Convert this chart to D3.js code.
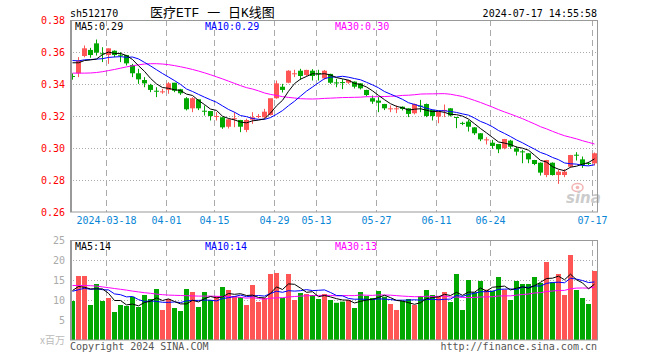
<!DOCTYPE html>
<html><head><meta charset="utf-8">
<script src="https://cdn.jsdelivr.net/npm/d3@7"></script>
<style>html,body{margin:0;padding:0;background:#fff;} svg{display:block}</style>
</head><body><svg id="c" width="660" height="360"></svg>
<script>
// ---------- data ----------
const dates = [
"2024-03-08","2024-03-11","2024-03-12","2024-03-13","2024-03-14","2024-03-15","2024-03-18","2024-03-19","2024-03-20","2024-03-21",
"2024-03-22","2024-03-25","2024-03-26","2024-03-27","2024-03-28","2024-03-29","2024-04-01","2024-04-02","2024-04-03","2024-04-08",
"2024-04-09","2024-04-10","2024-04-11","2024-04-12","2024-04-15","2024-04-16","2024-04-17","2024-04-18","2024-04-19","2024-04-22",
"2024-04-23","2024-04-24","2024-04-25","2024-04-26","2024-04-29","2024-04-30","2024-05-06","2024-05-07","2024-05-08","2024-05-09",
"2024-05-10","2024-05-13","2024-05-14","2024-05-15","2024-05-16","2024-05-17","2024-05-20","2024-05-21","2024-05-22","2024-05-23",
"2024-05-24","2024-05-27","2024-05-28","2024-05-29","2024-05-30","2024-05-31","2024-06-03","2024-06-04","2024-06-05","2024-06-06",
"2024-06-07","2024-06-11","2024-06-12","2024-06-13","2024-06-14","2024-06-17","2024-06-18","2024-06-19","2024-06-20","2024-06-21",
"2024-06-24","2024-06-25","2024-06-26","2024-06-27","2024-06-28","2024-07-01","2024-07-02","2024-07-03","2024-07-04","2024-07-05",
"2024-07-08","2024-07-09","2024-07-10","2024-07-11","2024-07-12","2024-07-15","2024-07-16","2024-07-17"];

const open = [
0.3450,0.3467,0.3575,0.3613,0.3654,0.3592,0.3581,0.3608,0.3583,0.3581,
0.3519,0.3467,0.3425,0.3394,0.3358,0.3352,0.3363,0.3408,0.3367,0.3311,
0.3248,0.3304,0.3233,0.3231,0.3198,0.3192,0.3133,0.3184,0.3175,0.3113,
0.3177,0.3198,0.3192,0.3206,0.3311,0.3383,0.3408,0.3465,0.3483,0.3456,
0.3483,0.3469,0.3435,0.3463,0.3410,0.3412,0.3408,0.3415,0.3404,0.3363,
0.3311,0.3296,0.3275,0.3246,0.3246,0.3258,0.3248,0.3217,0.3265,0.3275,
0.3238,0.3196,0.3236,0.3248,0.3194,0.3157,0.3165,0.3129,0.3092,0.3052,
0.3033,0.3025,0.2998,0.3046,0.2998,0.2979,0.2967,0.2925,0.2908,0.2831,
0.2908,0.2831,0.2831,0.2883,0.2958,0.2929,0.2906,0.2904];
const high = [
0.3470,0.3571,0.3644,0.3629,0.3681,0.3633,0.3625,0.3613,0.3602,0.3585,
0.3529,0.3498,0.3446,0.3404,0.3383,0.3373,0.3415,0.3410,0.3373,0.3321,
0.3321,0.3306,0.3269,0.3233,0.3227,0.3196,0.3186,0.3227,0.3179,0.3186,
0.3227,0.3215,0.3248,0.3311,0.3425,0.3404,0.3490,0.3492,0.3498,0.3492,
0.3496,0.3492,0.3490,0.3467,0.3435,0.3433,0.3429,0.3419,0.3408,0.3367,
0.3331,0.3321,0.3279,0.3269,0.3269,0.3263,0.3252,0.3281,0.3304,0.3281,
0.3242,0.3231,0.3275,0.3252,0.3196,0.3167,0.3179,0.3133,0.3096,0.3071,
0.3054,0.3027,0.3060,0.3054,0.3013,0.2992,0.2971,0.2929,0.2913,0.2929,
0.2913,0.2867,0.2871,0.2960,0.2977,0.2950,0.2917,0.2975];
const low = [
0.3430,0.3446,0.3570,0.3567,0.3581,0.3540,0.3529,0.3571,0.3540,0.3519,
0.3446,0.3404,0.3383,0.3352,0.3321,0.3342,0.3342,0.3352,0.3335,0.3238,
0.3227,0.3240,0.3206,0.3175,0.3175,0.3123,0.3125,0.3133,0.3102,0.3102,
0.3154,0.3190,0.3186,0.3206,0.3311,0.3350,0.3408,0.3446,0.3429,0.3450,
0.3425,0.3425,0.3431,0.3404,0.3383,0.3371,0.3404,0.3375,0.3369,0.3325,
0.3279,0.3227,0.3240,0.3227,0.3221,0.3238,0.3196,0.3213,0.3227,0.3196,
0.3175,0.3158,0.3196,0.3200,0.3127,0.3146,0.3106,0.3085,0.3046,0.3025,
0.2998,0.2971,0.2995,0.2998,0.2956,0.2908,0.2908,0.2896,0.2831,0.2821,
0.2831,0.2779,0.2821,0.2880,0.2925,0.2879,0.2896,0.2894];
const close = [
0.3449,0.3546,0.3623,0.3581,0.3596,0.3590,0.3623,0.3581,0.3581,0.3529,
0.3467,0.3429,0.3404,0.3363,0.3356,0.3354,0.3404,0.3358,0.3342,0.3242,
0.3311,0.3248,0.3231,0.3200,0.3200,0.3129,0.3179,0.3186,0.3133,0.3175,
0.3192,0.3200,0.3227,0.3311,0.3404,0.3363,0.3483,0.3467,0.3450,0.3488,
0.3450,0.3467,0.3483,0.3408,0.3408,0.3410,0.3425,0.3383,0.3373,0.3331,
0.3290,0.3283,0.3248,0.3248,0.3248,0.3244,0.3213,0.3275,0.3263,0.3200,
0.3200,0.3227,0.3238,0.3203,0.3190,0.3155,0.3133,0.3092,0.3054,0.3054,
0.3013,0.2992,0.3056,0.3008,0.2977,0.2977,0.2929,0.2900,0.2846,0.2925,
0.2831,0.2852,0.2852,0.2956,0.2956,0.2894,0.2904,0.2967];
// volume, millions
const volume = [
9.75,16,16,8.75,14,9.75,10.5,7,8.75,8.5,
10.8,8.25,11.25,10.25,12.75,7.5,10.25,8,7.25,12.75,
12,8.25,12,10,11,13.25,12.5,11,10.75,8.75,
13.75,9.5,10.5,16.5,16.75,10.5,16.5,10,11.75,11.5,
11.25,10.25,11.5,10,9.3,9.6,10,8,12,11,
10.5,12.25,10.8,9,7.5,9.75,10.25,8.75,11,12.5,
11.25,11,12,9.5,16.5,7.5,15,11.9,14.75,12.6,
12.3,15.75,12.6,10,14.75,14,14,15.75,14.25,19.5,
14.4,16.5,11.25,21.25,12.5,10.5,9,17.25];
// sessions before the first visible one (estimated from the MA lines' start)
const priorCloses = [0.3570,0.3555,0.3565,0.3570,0.3560,0.3546,0.3553,0.3561,0.3570];
const priorVolumes = [12,12.5,11.5,12,12.5,11,17,10.75,14];
// MA30 values for the first 29 sessions
const ma30PriceHead = [0.3471,0.3471,0.3471,0.3472,0.3475,0.3480,0.3487,0.3494,0.3502,0.3510,
0.3517,0.3523,0.3528,0.3530,0.3530,0.3528,0.3524,0.3518,0.3511,0.3503,
0.3494,0.3484,0.3473,0.3461,0.3448,0.3435,0.3421,0.3407,0.3393];
const ma30VolumeHead = [13.75,13.75,13.75,13.7,13.6,13.4,13.2,13.0,12.8,12.6,
12.35,12.15,11.95,11.8,11.6,11.45,11.35,11.3,11.25,11.2,
11.15,11.1,11.1,11.1,11.05,11.0,11.0,10.9,10.8];

const priceTicks = [0.38,0.36,0.34,0.32,0.30,0.28,0.26];
const volumeTicks = [25,20,15,10,5];
const dateTicks = ["2024-03-18","2024-04-01","2024-04-15","2024-04-29","2024-05-13","2024-05-27","2024-06-11","2024-06-24","2024-07-17"];
const dateTickLabels = ["2024-03-18","04-01","04-15","04-29","05-13","05-27","06-11","06-24","07-17"];

// ---------- helpers ----------
function movingAvg(vals, prior, n, head) {
  const all = prior.concat(vals);
  return vals.map((v, i) => {
    if (head && i < head.length) return head[i];
    const j = i + prior.length;
    if (j + 1 < n) return null;
    return d3.mean(all.slice(j - n + 1, j + 1));
  });
}
const ma5 = movingAvg(close, priorCloses, 5);
const ma10 = movingAvg(close, priorCloses, 10);
const ma30 = movingAvg(close, [], 30, ma30PriceHead);
const vma5 = movingAvg(volume, priorVolumes, 5);
const vma10 = movingAvg(volume, priorVolumes, 10);
const vma30 = movingAvg(volume, [], 30, ma30VolumeHead);

// ---------- drawing ----------
const svg = d3.select("#c");
const L = 70, R = 597, T = 20, B = 212, VT = 240, VB = 340;
const RED = "#ff5555", GREEN = "#00a800", GRID = "#aaaaaa", FRAME = "#999999";
const MONO = "'DejaVu Sans Mono', 'Liberation Mono', monospace";

const x = d3.scaleBand().domain(dates).range([L, L + 6 * dates.length]).padding(0);
const cx = d => x(d) + 2.5;
const y = d3.scaleLinear().domain([0.26, 0.38]).range([212.5, 20.5]);
const yv = d3.scaleLinear().domain([0, 25]).range([340.5, 240.5]);

// horizontal dotted grid
svg.append("g").selectAll("line").data(priceTicks.slice(1, -1)).join("line")
  .attr("x1", L).attr("x2", R).attr("y1", d => y(d)).attr("y2", d => y(d))
  .attr("stroke", GRID).attr("stroke-dasharray", "1,2");
svg.append("g").selectAll("line").data(volumeTicks.slice(1)).join("line")
  .attr("x1", L).attr("x2", R).attr("y1", d => yv(d)).attr("y2", d => yv(d))
  .attr("stroke", GRID).attr("stroke-dasharray", "1,2");
// vertical dashed grid
[[T, B], [VT, VB]].forEach(([a, b]) => {
  svg.append("g").selectAll("line").data(dateTicks).join("line")
    .attr("x1", d => x(d) + 0.5).attr("x2", d => x(d) + 0.5).attr("y1", a).attr("y2", b)
    .attr("stroke", GRID).attr("stroke-dasharray", "6,4");
});

// sina watermark
const wm = svg.append("g");
wm.append("ellipse").attr("cx", 577.5).attr("cy", 187.5).attr("rx", 5.5).attr("ry", 4)
  .attr("fill", "none").attr("stroke", "#f2b4b4").attr("stroke-width", 1.5);
wm.append("circle").attr("cx", 577.5).attr("cy", 187.5).attr("r", 1.8).attr("fill", "#f2b4b4");
wm.append("text").attr("x", 566).attr("y", 203).text("sina")
  .attr("font-family", "'DejaVu Sans', sans-serif").attr("font-weight", "bold").attr("font-style", "italic")
  .attr("font-size", 15).attr("fill", "#cccccc");

// candles
const candles = svg.append("g").selectAll("g").data(dates).join("g")
  .attr("fill", (d, i) => close[i] >= open[i] ? RED : GREEN)
  .attr("stroke", (d, i) => close[i] >= open[i] ? RED : GREEN);
candles.append("line")
  .attr("x1", d => cx(d)).attr("x2", d => cx(d))
  .attr("y1", (d, i) => y(high[i])).attr("y2", (d, i) => y(low[i]));
candles.append("rect")
  .attr("x", d => x(d)).attr("width", 5)
  .attr("y", (d, i) => Math.min(y(open[i]), y(close[i])) - 0.5)
  .attr("height", (d, i) => Math.max(1, Math.abs(y(open[i]) - y(close[i]))))
  .attr("stroke", "none");

// volume bars
svg.append("g").selectAll("rect").data(dates).join("rect")
  .attr("x", d => x(d)).attr("width", 5)
  .attr("y", (d, i) => yv(volume[i]) - 0.5).attr("height", (d, i) => 340 - yv(volume[i]) + 0.5)
  .attr("fill", (d, i) => close[i] >= open[i] ? RED : GREEN);

// MA lines
function maLine(vals, scale, color) {
  const ln = d3.line().defined(v => v[1] != null).x(v => cx(v[0])).y(v => scale(v[1]));
  svg.append("path").datum(dates.map((d, i) => [d, vals[i]]))
    .attr("d", ln).attr("fill", "none").attr("stroke", color).attr("stroke-width", 1);
}
maLine(ma30, y, "#ff00ff"); maLine(ma10, y, "#0000ff"); maLine(ma5, y, "#000000");
maLine(vma30, yv, "#ff00ff"); maLine(vma10, yv, "#0000ff"); maLine(vma5, yv, "#000000");

// frames
[[T, B], [VT, VB]].forEach(([a, b]) => {
  svg.append("rect").attr("x", L + 0.5).attr("y", a + 0.5).attr("width", R - L).attr("height", b - a - 0.5)
    .attr("fill", "none").attr("stroke", FRAME);
  svg.append("line").attr("x1", L + 1.5).attr("x2", L + 1.5).attr("y1", a).attr("y2", b)
    .attr("stroke", FRAME);
});

// axes
const yAxis = svg.append("g").attr("transform", `translate(${L - 3},0)`)
  .call(d3.axisLeft(y).tickValues(priceTicks).tickFormat(d3.format(".2f")).tickSize(0).tickPadding(2));
yAxis.select(".domain").remove();
yAxis.selectAll("text").attr("fill", "#ff0000").attr("font-family", MONO).attr("font-size", 10);

const vAxis = svg.append("g").attr("transform", `translate(${L - 3},0)`)
  .call(d3.axisLeft(yv).tickValues(volumeTicks).tickSize(0).tickPadding(2));
vAxis.select(".domain").remove();
vAxis.selectAll("text").attr("fill", "#aaaaaa").attr("font-family", MONO).attr("font-size", 10);

const xAxis = svg.append("g").attr("transform", `translate(-2.5,${B})`)
  .call(d3.axisBottom(x).tickValues(dateTicks)
    .tickFormat(d => dateTickLabels[dateTicks.indexOf(d)]).tickSize(0).tickPadding(5));
xAxis.select(".domain").remove();
xAxis.selectAll("text").attr("fill", "#0a86d6").attr("font-family", MONO).attr("font-size", 10);

// texts
function txt(s, xx, yy, color, anchor, size, family) {
  svg.append("text").attr("x", xx).attr("y", yy).text(s).attr("fill", color)
    .attr("text-anchor", anchor || "start").attr("font-size", size || 10)
    .attr("font-family", family || MONO);
}
txt("sh512170", 70, 16.5, "#000");
txt("医疗ETF 一 日K线图", 150, 17, "#000", "start", 13, "'Liberation Mono', 'Noto Sans CJK SC', serif");
txt("2024-07-17 14:55:58", 597, 16.5, "#000", "end");
const last = dates.length - 1;
txt("MA5:" + d3.format(".2f")(ma5[last]), 75, 29.5, "#000");
txt("MA10:" + d3.format(".2f")(ma10[last]), 205, 29.5, "#0000ff");
txt("MA30:" + d3.format(".2f")(ma30[last]), 335, 29.5, "#ff00ff");
txt("MA5:" + Math.floor(vma5[last]), 75, 250, "#000");
txt("MA10:" + Math.floor(vma10[last]), 205, 250, "#0000ff");
txt("MA30:" + Math.floor(vma30[last]), 335, 250, "#ff00ff");
txt("x百万", 65, 344, "#bbbbbb", "end", 10, "'Noto Sans CJK SC', sans-serif");
txt("Copyright 2024 SINA.COM", 70, 349.5, "#555555");
txt("http://finance.sina.com.cn", 597, 349.5, "#555555", "end");
</script></body></html>
